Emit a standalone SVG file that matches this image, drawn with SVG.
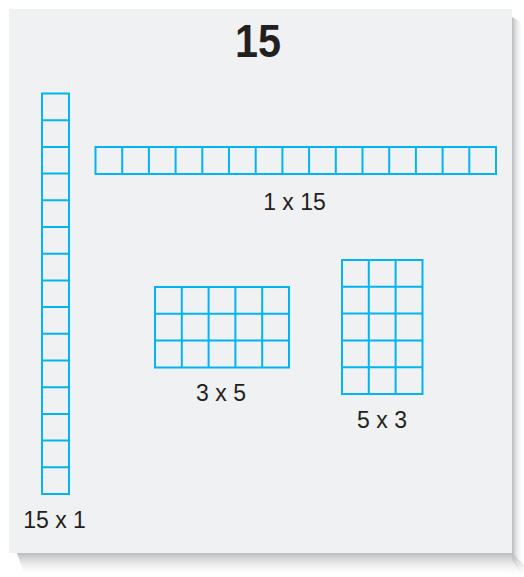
<svg xmlns="http://www.w3.org/2000/svg" width="524" height="577" viewBox="0 0 524 577">
<defs>
<linearGradient id="shR" x1="0" y1="0" x2="1" y2="0">
<stop offset="0" stop-color="#b9babd"/><stop offset="1" stop-color="#ffffff" stop-opacity="0"/>
</linearGradient>
<linearGradient id="shB" x1="0" y1="0" x2="0" y2="1">
<stop offset="0" stop-color="#b9babd"/><stop offset="1" stop-color="#ffffff" stop-opacity="0"/>
</linearGradient>
</defs>
<style>
.g{fill:none;stroke:#00b4f0;stroke-width:2}
.lbl{font-family:"Liberation Sans",Arial,sans-serif;font-size:23px;fill:#231f20;text-anchor:middle}
.title{font-family:"Liberation Sans",Arial,sans-serif;font-weight:bold;font-size:46px;fill:#231f20;text-anchor:middle}
</style>
<rect width="524" height="577" fill="#ffffff"/>
<path d="M512 17 L524 24 L524 577 L512 560 Z" fill="url(#shR)"/>
<path d="M17 553 L512 553 L524 565 L524 577 L25 577 Z" fill="url(#shB)"/>
<rect x="9" y="9" width="503" height="544" fill="#f0f1f3"/>
<g id="title"><text class="title" x="258" y="57" textLength="46" lengthAdjust="spacingAndGlyphs">15</text></g>
<g id="col15x1">
<rect class="g" x="42" y="93.5" width="27" height="400.5"/>
<path class="g" d="M42 120.2H69M42 146.9H69M42 173.6H69M42 200.3H69M42 227H69M42 253.7H69M42 280.4H69M42 307.1H69M42 333.8H69M42 360.5H69M42 387.2H69M42 413.9H69M42 440.6H69M42 467.3H69"/>
<text class="lbl" x="54.5" y="528">15 x 1</text>
</g>
<g id="row1x15">
<rect class="g" x="95.5" y="147" width="400.5" height="27"/>
<path class="g" d="M122.2 147V174M148.9 147V174M175.6 147V174M202.3 147V174M229 147V174M255.7 147V174M282.4 147V174M309.1 147V174M335.8 147V174M362.5 147V174M389.2 147V174M415.9 147V174M442.6 147V174M469.3 147V174"/>
<text class="lbl" x="294.5" y="210">1 x 15</text>
</g>
<g id="grid3x5">
<rect class="g" x="155" y="287" width="134" height="80.5"/>
<path class="g" d="M155 313.8H289M155 340.6H289M181.8 287V367.5M208.6 287V367.5M235.4 287V367.5M262.2 287V367.5"/>
<text class="lbl" x="221" y="401">3 x 5</text>
</g>
<g id="grid5x3">
<rect class="g" x="342" y="260" width="80.5" height="134"/>
<path class="g" d="M342 286.8H422.5M342 313.6H422.5M342 340.4H422.5M342 367.2H422.5M368.8 260V394M395.6 260V394"/>
<text class="lbl" x="382" y="427.5">5 x 3</text>
</g>
<g id="connectors"/>
</svg>
